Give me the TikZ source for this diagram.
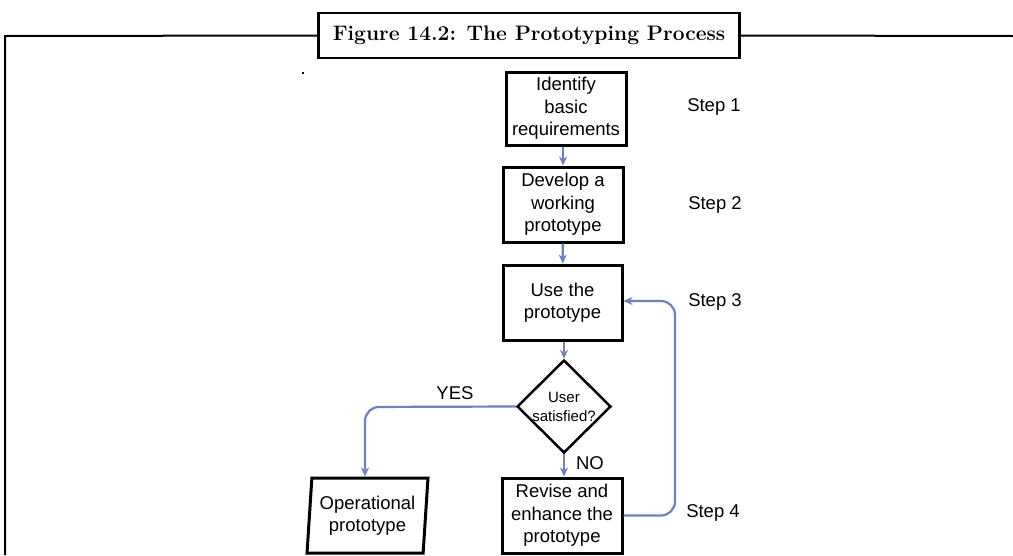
\documentclass[tikz,border=0pt]{standalone}
\usepackage{fontspec}
\setmainfont{Liberation Sans}
\newfontfamily\titlefont{Latin Modern Roman}
\usetikzlibrary{shapes.geometric,arrows.meta}
\definecolor{flowblue}{RGB}{112,128,192}
\tikzset{
  stepbox/.style={draw=black,line width=3pt,rectangle,minimum width=120pt,minimum height=75pt,inner sep=0pt,align=center,font=\fontsize{18.5}{22.5}\selectfont},
  flow/.style={draw=flowblue,line width=2.2pt,-{Stealth[length=9pt,width=8pt]}},
  lbl/.style={font=\fontsize{18.5}{22}\selectfont,inner sep=0pt},
}
\begin{document}
\begin{tikzpicture}[x=1pt,y=-1pt]
\useasboundingbox (0,0) rectangle (1013,555);
% outer frame
\coordinate (fl) at (5,555);
\coordinate (ftl) at (5,36);
\coordinate (fr) at (1013,36);
\node[draw,line width=2.5pt,minimum width=421pt,minimum height=45pt,inner sep=0pt,font=\titlefont\bfseries\fontsize{21}{24}\selectfont] (title) at (529,35.5) {Figure 14.2: The Prototyping Process};
\draw[line width=2pt] (fl) -- (ftl) -- (title.west);
\draw[line width=2pt] (title.east) -- (fr);
\fill (302,72) rectangle (304,74);
% boxes
\node[stepbox,minimum height=73pt] (b1) at (566,108.5) {Identify\\basic\\requirements};
\node[stepbox] (b2) at (563,204.5) {Develop a\\working\\prototype};
\node[stepbox,minimum width=119pt] (b3) at (562.5,302.5) {Use the\\prototype};
\node[draw,line width=2.5pt,diamond,minimum width=94pt,minimum height=93pt,inner sep=0pt] (d) at (564,406.5) {};
\node[font=\fontsize{15}{19}\selectfont,align=center,inner sep=0pt] (dt) at (564,407) {User\\satisfied?};
\node[stepbox] (b4) at (562,515.5) {Revise and\\enhance the\\prototype};
\node[draw,line width=3pt,trapezium,trapezium left angle=84,trapezium right angle=96,trapezium stretches=true,minimum width=121pt,minimum height=75pt,inner sep=0pt,align=center,font=\fontsize{18.5}{22.5}\selectfont] (op) at (367.5,515.5) {Operational\\prototype};
% connectors
\draw[flow] (b1.south -| 563,0) -- (b2.north -| 563,0);
\draw[flow] (b2) -- (b3);
\draw[flow] (b3.south -| d) -- (d.north);
\draw[flow] (d.south) -- (b4.north -| d);
\draw[flow,rounded corners=14pt] (d.west) -- (365,407) -- (op.north -| 365,0);
\draw[flow,rounded corners=14pt] (b4.east) -- (675,515.5) -- (675,301) -- (b3.east |- 0,301);
% labels
\node[lbl] (yes) at (455,393) {YES};
\node[lbl] (no) at (590,463) {NO};
\node[lbl] (s1) at (714,107) {Step 1};
\node[lbl] (s2) at (715,205) {Step 2};
\node[lbl] (s3) at (715,302) {Step 3};
\node[lbl] (s4) at (713,513) {Step 4};
\end{tikzpicture}
\end{document}
